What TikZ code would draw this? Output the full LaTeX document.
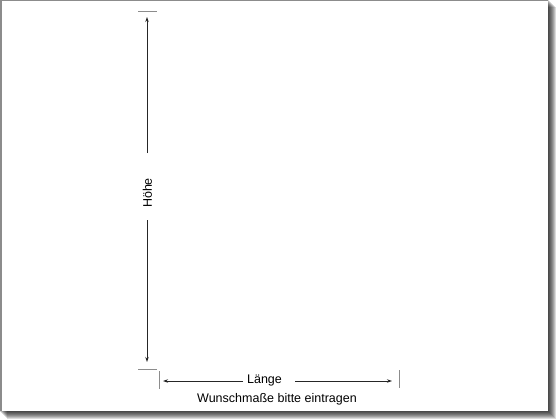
\documentclass[tikz,border=0pt]{standalone}
\usepackage{fontspec}
\setmainfont{Liberation Sans}
\usetikzlibrary{arrows.meta}
\begin{document}
\begin{tikzpicture}[x=1pt,y=-1pt,
    dimline/.style={line width=0.9pt, draw=black!85, -{Stealth[length=5pt,width=3.4pt]}},
    tickline/.style={line width=0.8pt, draw=black!45},
    lbl/.style={inner sep=0pt, font=\fontsize{12.5}{14}\selectfont}]
                    \useasboundingbox (0,0) rectangle (560,420);
                    \fill[white] (0,0) rectangle (560,420);

                    % Drawing shadow of the sheet
                    \foreach \s in {0,...,7}
                    \fill[black, opacity=0.14] (\s,\s) rectangle (549+\s,412+\s);%

                    % Drawing sheet
                    \fill[white] (0,0) rectangle (548,411);%
                    \draw[line width=1.5pt, black!45] (0.75,411) -- (0.75,0.75) -- (548,0.75);%

                    % Marking height
                    \coordinate (hTop) at (147,17);
                    \coordinate (hGapA) at (147,153);
                    \coordinate (hGapB) at (147,220);
                    \coordinate (hBot) at (147,362);
                    \node[lbl, rotate=90] (hoehe) at (147.5,193) {Höhe};%
                    \draw[dimline] (hGapA) -- (hTop);%
                    \draw[dimline] (hGapB) -- (hBot);%
                    \draw[tickline] (138,11) -- (157,11);%
                    \draw[tickline] (138,369) -- (157,369);%

                    % Marking length
                    \coordinate (lLeft) at (163,381);
                    \coordinate (lGapA) at (243,381);
                    \coordinate (lGapB) at (295,381);
                    \coordinate (lRight) at (392,381);
                    \node[lbl] (laenge) at (264.5,380) {Länge};%
                    \draw[dimline] (lGapA) -- (lLeft);%
                    \draw[dimline] (lGapB) -- (lRight);%
                    \draw[tickline] (159.5,371) -- (159.5,389);%
                    \draw[tickline] (399,370) -- (399,388);%

                    % Note below
                    \node[lbl] (hinweis) at (277,399.5) {Wunschmaße bitte eintragen};%
\end{tikzpicture}
\end{document}
